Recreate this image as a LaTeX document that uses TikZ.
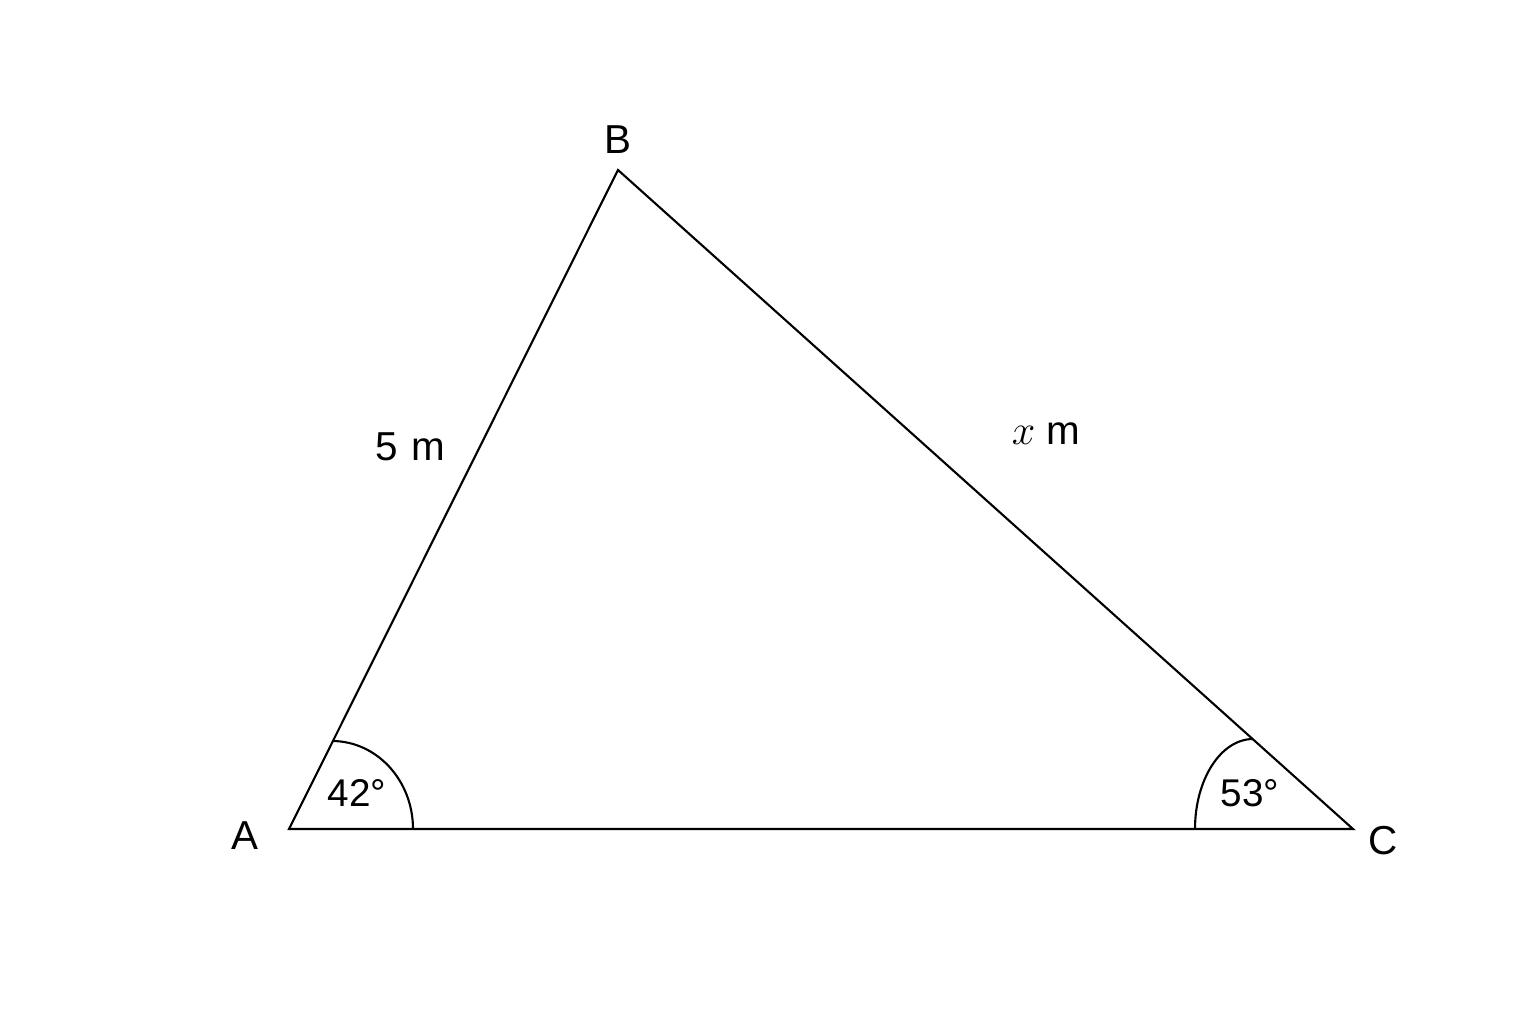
\documentclass[tikz,border=0pt]{standalone}
\usepackage{fontspec}
\setmainfont{Liberation Sans}
\usepackage{tikz}
\usetikzlibrary{arrows,shapes}
\tikzstyle{vertex label}=[inner sep=0pt,font=\fontsize{11.5}{13}\selectfont]
\tikzstyle{side label} = [vertex label]
\tikzstyle{angle label} = [vertex label, font=\fontsize{11}{13}\selectfont]
\tikzstyle{edge} = [draw,line width=0.6pt,-]
\tikzstyle{angle mark} = [draw,line width=0.6pt]

\begin{document}
\begin{tikzpicture}
    \useasboundingbox (0,0) rectangle (15.36,10.24);
    % Draw the triangle ABC
    % First we place the corners
    \foreach \pos/\name in {{(2.89,1.95)/A}, {(6.18,8.54)/B}, {(13.53,1.95)/C}}
        \path \pos coordinate (\name);

    % Connect corners with sides
    \path[edge] (A) -- (B) -- (C) -- cycle;

    % Angle marks at A and C
    \path[angle mark] ([xshift=1.24cm]A) arc[start angle=0,end angle=90,x radius=0.81,y radius=0.88];
    \path[angle mark] ([xshift=-1.58cm]C) arc[start angle=180,end angle=90,x radius=0.58,y radius=0.90];

    % Corner names
    \foreach \pos/\name/\txt in {{(6.18,8.84)/labB/B}, {(2.45,1.88)/labA/A}, {(13.83,1.83)/labC/C}}
        \node[vertex label] (\name) at \pos {\txt};

    % Sides and angles
    \node[side label] (sideAB) at (4.10,5.77) {5\,\,m};
    \node[side label] (sideBC) at (10.46,5.90) {$x$ m};
    \node[angle label] (angA) at (3.57,2.31) {42°};
    \node[angle label] (angC) at (12.50,2.31) {53°};
\end{tikzpicture}
\end{document}
